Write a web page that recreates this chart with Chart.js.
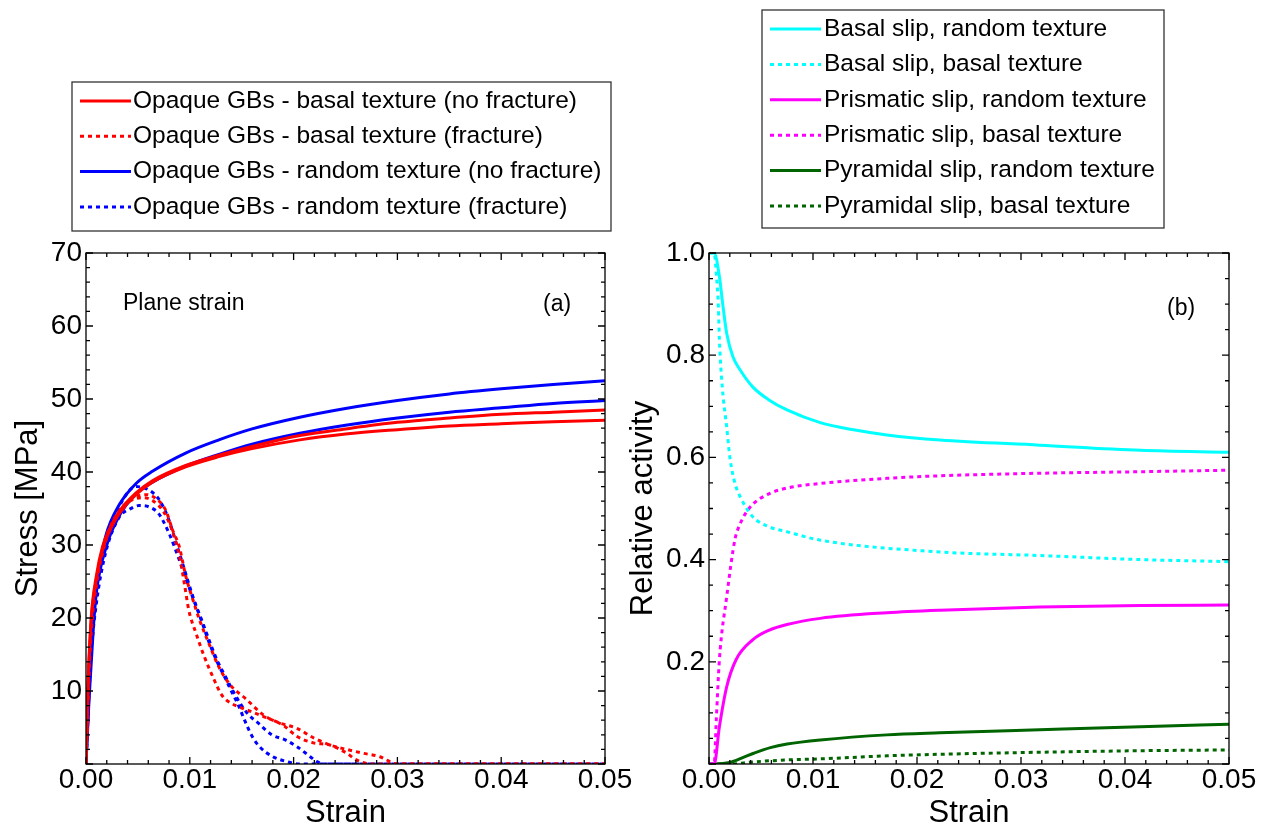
<!DOCTYPE html>
<html>
<head>
<meta charset="utf-8">
<script src="https://cdn.jsdelivr.net/npm/chart.js"></script>
<style>
  body { margin: 0; background: #fff; }
  #wrap { position: relative; width: 1266px; height: 829px; overflow: hidden; }
  .box { position: absolute; top: 0; height: 829px; }
</style>
</head>
<body>
<div id="wrap">
  <div class="box" style="left:0; width:640px"><canvas id="stress-chart"></canvas></div>
  <div class="box" style="left:600px; width:666px"><canvas id="activity-chart"></canvas></div>
</div>
<script>
// ---- (a) stress-strain, [strain, stress MPa] ----
var basalSolid1 = [[0,0],[0.0002,11],[0.0005,20],[0.001,25.8],[0.0016,29.8],[0.0024,32.6],[0.0032,34.6],[0.0048,37.1],[0.0064,38.8],[0.0096,40.9],[0.0128,42.3],[0.016,43.5],[0.0206,45.0],[0.025,45.9],[0.03,46.8],[0.035,47.4],[0.04,47.9],[0.045,48.2],[0.05,48.5]];
var basalSolid2 = [[0,0],[0.0002,10.5],[0.0005,19.5],[0.001,25.3],[0.0016,29.4],[0.0024,32.3],[0.0032,34.3],[0.0048,36.9],[0.0064,38.6],[0.0096,40.7],[0.0128,42.1],[0.016,43.2],[0.0206,44.4],[0.025,45.2],[0.03,45.8],[0.035,46.3],[0.04,46.6],[0.045,46.9],[0.05,47.1]];
var randomSolid1 = [[0,0],[0.0003,10],[0.0007,20],[0.001,24.5],[0.0019,31.2],[0.0032,35.5],[0.0048,38.4],[0.0064,40.1],[0.0096,42.6],[0.0128,44.4],[0.016,45.9],[0.0206,47.5],[0.025,48.7],[0.03,49.8],[0.035,50.7],[0.04,51.4],[0.045,52.0],[0.05,52.5]];
var randomSolid2 = [[0,0],[0.0003,9],[0.0007,18.5],[0.001,23.5],[0.002,30],[0.0032,34],[0.0048,37],[0.0064,38.6],[0.0096,40.8],[0.0128,42.4],[0.016,43.8],[0.0206,45.3],[0.025,46.4],[0.03,47.4],[0.035,48.2],[0.04,48.8],[0.045,49.4],[0.05,49.8]];
var basalDotted1 = [[0,0],[0.0002,10],[0.0005,19],[0.001,25],[0.0017,30],[0.0025,33],[0.0035,35.2],[0.0045,36.2],[0.0055,36.5],[0.0065,36.0],[0.0075,34.5],[0.0083,32.0],[0.009,28.5],[0.0095,24.5],[0.0099,21.1],[0.0106,17.9],[0.0114,14.7],[0.0122,12.0],[0.0131,9.4],[0.014,8.3],[0.0148,7.8],[0.0171,6.5],[0.019,5.3],[0.0203,3.8],[0.0219,2.9],[0.0235,2.6],[0.0251,1.5],[0.026,0.6],[0.0275,0],[0.05,0]];
var basalDotted2 = [[0,0],[0.0002,9],[0.0005,18],[0.001,24.5],[0.0017,29.5],[0.0025,32.8],[0.0035,35],[0.0045,36.4],[0.0058,36.9],[0.0067,36.4],[0.0077,34.7],[0.0083,32.2],[0.009,29.7],[0.0096,25.8],[0.0103,22.5],[0.011,19.5],[0.0119,16.3],[0.0128,13.3],[0.0138,11.0],[0.0155,8.8],[0.0171,6.7],[0.0187,5.6],[0.0203,4.9],[0.0219,3.6],[0.0235,2.6],[0.0251,2.0],[0.0266,1.5],[0.0283,1.0],[0.03,0],[0.05,0]];
var randomDotted1 = [[0,0],[0.0002,8],[0.0005,16],[0.001,23],[0.0019,30],[0.0032,35.2],[0.0042,37.5],[0.0048,38.0],[0.0061,37.5],[0.0071,36.1],[0.008,33.4],[0.0087,30.2],[0.0093,27.5],[0.0103,22.9],[0.0111,19.7],[0.0119,16.5],[0.0127,13.8],[0.0135,11.5],[0.0141,9.7],[0.0146,8.3],[0.0154,5.6],[0.016,3.8],[0.0167,2.4],[0.018,1.0],[0.0193,0.35],[0.0205,0],[0.05,0]];
var randomDotted2 = [[0,0],[0.0002,7],[0.0005,15],[0.001,22],[0.0019,29],[0.0032,33.8],[0.0042,34.9],[0.0051,35.4],[0.0061,35.2],[0.007,34.3],[0.008,31.6],[0.009,27.9],[0.0099,24.3],[0.0104,22.4],[0.0111,19.9],[0.0119,16.8],[0.0127,14],[0.0135,11.8],[0.0142,9.9],[0.0149,8.2],[0.0157,6.7],[0.0166,5.6],[0.0179,4.0],[0.0192,3.3],[0.0203,2.4],[0.0216,1.0],[0.0222,0.35],[0.023,0],[0.05,0]];
var stressLabels = ['Opaque GBs - basal texture (no fracture)', 'Opaque GBs - basal texture (fracture)',
                    'Opaque GBs - random texture (no fracture)', 'Opaque GBs - random texture (fracture)'];

// ---- (b) relative slip activity, [strain, activity] ----
var basalRandom = [[0,1.0],[0.0005,1.0],[0.001,0.954],[0.00135,0.895],[0.0017,0.843],[0.0023,0.797],[0.003,0.771],[0.0042,0.738],[0.0058,0.712],[0.0075,0.693],[0.0107,0.668],[0.0139,0.654],[0.0171,0.644],[0.0222,0.634],[0.0318,0.624],[0.0415,0.614],[0.05,0.61]];
var basalBasal = [[0,1.0],[0.0005,1.0],[0.0007,0.96],[0.0009,0.895],[0.001,0.83],[0.0013,0.732],[0.0017,0.66],[0.002,0.601],[0.0025,0.549],[0.003,0.523],[0.0042,0.484],[0.0058,0.464],[0.0074,0.455],[0.0107,0.438],[0.0222,0.415],[0.0318,0.408],[0.0415,0.40],[0.05,0.396]];
var prismRandom = [[0,0],[0.0005,0],[0.001,0.073],[0.0017,0.151],[0.0026,0.204],[0.0042,0.243],[0.0058,0.262],[0.0075,0.273],[0.0107,0.285],[0.0171,0.296],[0.0222,0.301],[0.0318,0.307],[0.0415,0.31],[0.05,0.311]];
var prismBasal = [[0,0],[0.0005,0],[0.0007,0.086],[0.001,0.204],[0.0017,0.327],[0.0025,0.44],[0.003,0.47],[0.0035,0.49],[0.0043,0.51],[0.0059,0.53],[0.0075,0.54],[0.0107,0.549],[0.0171,0.559],[0.0222,0.564],[0.0318,0.569],[0.0415,0.572],[0.05,0.575]];
var pyrRandom = [[0,0],[0.0006,0],[0.002,0.003],[0.0033,0.013],[0.0043,0.021],[0.0059,0.032],[0.0075,0.039],[0.0107,0.047],[0.0171,0.057],[0.0222,0.061],[0.0318,0.067],[0.0415,0.073],[0.05,0.078]];
var pyrBasal = [[0,0],[0.002,0],[0.0042,0.004],[0.0075,0.008],[0.0107,0.01],[0.0171,0.016],[0.0222,0.019],[0.0318,0.023],[0.0415,0.026],[0.05,0.0275]];
var activityLabels = ['Basal slip, random texture', 'Basal slip, basal texture', 'Prismatic slip, random texture',
                      'Prismatic slip, basal texture', 'Pyramidal slip, random texture', 'Pyramidal slip, basal texture'];

var strainTicks = [0, 0.01, 0.02, 0.03, 0.04, 0.05];
var stressTicks = [10, 20, 30, 40, 50, 60, 70];
var activityTicks = [0.2, 0.4, 0.6, 0.8, 1.0];

var FONT = '"Liberation Sans", Arial, Helvetica, sans-serif';

function pts(arr) { return arr.map(function (p) { return { x: p[0], y: p[1] }; }); }

function line(arr, color, dotted, label) {
  return {
    label: label || '',
    inLegend: !!label,
    data: pts(arr),
    borderColor: color,
    backgroundColor: color,
    borderWidth: 3,
    borderDash: dotted ? [4, 4] : [],
    pointRadius: 0,
    cubicInterpolationMode: 'monotone',
    fill: false
  };
}

// frame with inward ticks on all four sides
var frameTicks = {
  id: 'frameTicks',
  afterDatasetsDraw: function (chart, args, o) {
    var ctx = chart.ctx, a = chart.chartArea, x = chart.scales.x, y = chart.scales.y;
    ctx.save();
    ctx.strokeStyle = '#000';
    ctx.lineWidth = 1.3;
    ctx.strokeRect(a.left, a.top, a.right - a.left, a.bottom - a.top);
    ctx.beginPath();
    var n = Math.round((x.max - x.min) / o.xMinor), every = Math.round(o.xMajor / o.xMinor);
    for (var i = 0; i <= n; i++) {
      var px = x.getPixelForValue(x.min + i * o.xMinor), len = i % every === 0 ? 7 : 4;
      ctx.moveTo(px, a.bottom); ctx.lineTo(px, a.bottom - len);
      ctx.moveTo(px, a.top); ctx.lineTo(px, a.top + len);
    }
    n = Math.round((y.max - y.min) / o.yMinor); every = Math.round(o.yMajor / o.yMinor);
    for (var j = 0; j <= n; j++) {
      var py = y.getPixelForValue(y.min + j * o.yMinor), l2 = j % every === 0 ? 7 : 4;
      ctx.moveTo(a.left, py); ctx.lineTo(a.left + l2, py);
      ctx.moveTo(a.right, py); ctx.lineTo(a.right - l2, py);
    }
    ctx.stroke();
    ctx.restore();
  }
};

// boxed legend + text notes
var boxLegend = {
  id: 'boxLegend',
  afterDraw: function (chart, args, o) {
    var ctx = chart.ctx;
    ctx.save();
    ctx.strokeStyle = '#333';
    ctx.lineWidth = 1.3;
    ctx.strokeRect(o.x, o.y, o.w, o.h);
    ctx.font = '24.5px ' + FONT;
    ctx.textBaseline = 'middle';
    ctx.textAlign = 'left';
    var row = 0;
    chart.data.datasets.forEach(function (ds) {
      if (!ds.inLegend) return;
      var cy = o.y + 19 + row * o.rowGap;
      ctx.beginPath();
      ctx.setLineDash(ds.borderDash);
      ctx.strokeStyle = ds.borderColor;
      ctx.lineWidth = 3;
      ctx.moveTo(o.x + 8, cy); ctx.lineTo(o.x + 59, cy);
      ctx.stroke();
      ctx.setLineDash([]);
      ctx.fillStyle = '#000';
      ctx.fillText(ds.label, o.x + o.textGap, cy);
      row++;
    });
    ctx.font = '23px ' + FONT;
    (o.notes || []).forEach(function (t) { ctx.fillText(t.text, t.x, t.y); });
    ctx.restore();
  }
};

function options(cfg) {
  return {
    responsive: true,
    maintainAspectRatio: false,
    animation: false,
    layout: { padding: { left: 0, top: 253, right: cfg.padRight, bottom: 0 } },
    plugins: {
      legend: { display: false },
      tooltip: { enabled: false },
      frameTicks: cfg.ticks,
      boxLegend: cfg.legend
    },
    scales: {
      x: {
        type: 'linear', min: 0, max: 0.05,
        afterFit: function (s) { s.height = 65; },
        afterBuildTicks: function (s) { s.ticks = strainTicks.map(function (v) { return { value: v }; }); },
        grid: { display: false, drawTicks: false },
        border: { display: false },
        ticks: { color: '#000', padding: 2, font: { family: FONT, size: 28, lineHeight: 1 },
                 callback: function (v) { return v.toFixed(2); } },
        title: { display: true, text: 'Strain', color: '#000', padding: { top: 0, bottom: 0 },
                 font: { family: FONT, size: 31, lineHeight: 1 } }
      },
      y: {
        type: 'linear', min: 0, max: cfg.yMax,
        afterFit: function (s) { s.width = cfg.yWidth; },
        afterBuildTicks: function (s) { s.ticks = cfg.yTicks.map(function (v) { return { value: v }; }); },
        grid: { display: false, drawTicks: false },
        border: { display: false },
        ticks: { color: '#000', padding: 4, font: { family: FONT, size: 28, lineHeight: 1 },
                 callback: cfg.yFormat },
        title: { display: true, text: cfg.yTitle, color: '#000', padding: { top: cfg.yTitlePad, bottom: 0 },
                 font: { family: FONT, size: 31, lineHeight: 1 } }
      }
    }
  };
}

new Chart(document.querySelector('#stress-chart').getContext('2d'), {
  type: 'line',
  data: {
    datasets: [
      line(basalSolid1, '#ff0000', false, stressLabels[0]),
      line(basalSolid2, '#ff0000', false),
      line(basalDotted1, '#ff0000', true, stressLabels[1]),
      line(basalDotted2, '#ff0000', true),
      line(randomSolid1, '#0000ff', false, stressLabels[2]),
      line(randomSolid2, '#0000ff', false),
      line(randomDotted1, '#0000ff', true, stressLabels[3]),
      line(randomDotted2, '#0000ff', true)
    ]
  },
  options: options({
    padRight: 35, yWidth: 86, yMax: 70, yTicks: stressTicks, yTitle: 'Stress [MPa]', yTitlePad: 13,
    yFormat: function (v) { return String(v); },
    ticks: { xMinor: 0.002, xMajor: 0.01, yMinor: 2, yMajor: 10 },
    legend: { x: 72, y: 82, w: 539, h: 149, rowGap: 35.3, textGap: 61,
              notes: [{ text: 'Plane strain', x: 123, y: 304 }, { text: '(a)', x: 543, y: 305 }] }
  }),
  plugins: [frameTicks, boxLegend]
});

new Chart(document.querySelector('#activity-chart').getContext('2d'), {
  type: 'line',
  data: {
    datasets: [
      line(basalRandom, '#00ffff', false, activityLabels[0]),
      line(basalBasal, '#00ffff', true, activityLabels[1]),
      line(prismRandom, '#ff00ff', false, activityLabels[2]),
      line(prismBasal, '#ff00ff', true, activityLabels[3]),
      line(pyrRandom, '#006400', false, activityLabels[4]),
      line(pyrBasal, '#006400', true, activityLabels[5])
    ]
  },
  options: options({
    padRight: 37, yWidth: 109, yMax: 1, yTicks: activityTicks, yTitle: 'Relative activity', yTitlePad: 28,
    yFormat: function (v) { return v.toFixed(1); },
    ticks: { xMinor: 0.002, xMajor: 0.01, yMinor: 0.05, yMajor: 0.2 },
    legend: { x: 162, y: 10, w: 402, h: 218, rowGap: 35.4, textGap: 62,
              notes: [{ text: '(b)', x: 567, y: 309 }] }
  }),
  plugins: [frameTicks, boxLegend]
});
</script>
</body>
</html>
